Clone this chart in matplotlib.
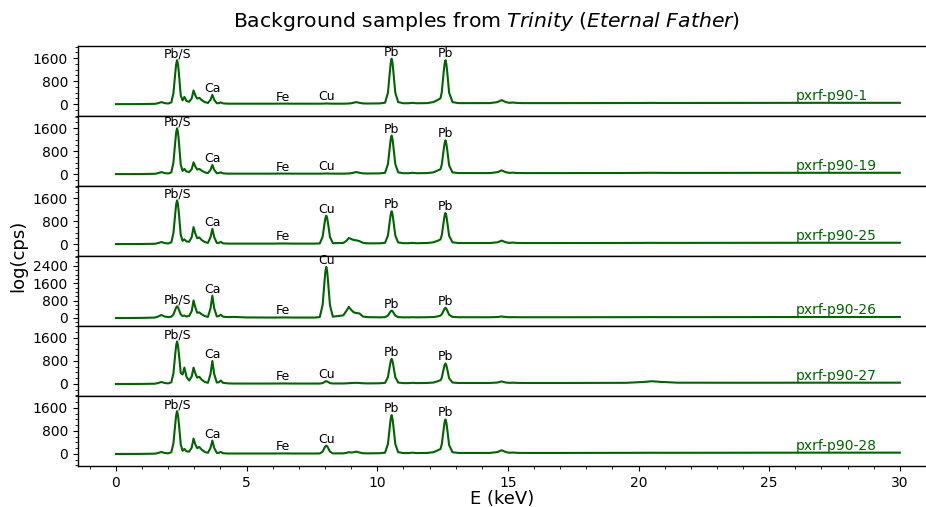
import matplotlib
matplotlib.use("Agg")
import matplotlib.pyplot as plt
from matplotlib.ticker import MultipleLocator, AutoMinorLocator
import numpy as np

# energy grid (keV), denser around the peaks
energy = [
    0.0, 0.5, 1.0, 1.5, 1.62, 1.74, 1.86, 2.0,
    2.12, 2.20, 2.27, 2.305, 2.34, 2.375, 2.41, 2.48,
    2.55, 2.62, 2.70, 2.80,
    2.90, 2.97, 3.04, 3.11, 3.19, 3.28, 3.40, 3.52,
    3.62, 3.69, 3.76, 3.86, 3.94, 4.01, 4.10, 4.3,
    4.5, 5.0, 6.0, 6.4, 6.8, 7.6,
    7.80, 7.91, 7.98, 8.015, 8.05, 8.085, 8.12, 8.19, 8.30,
    8.70, 8.82, 8.91, 9.00, 9.10, 9.20, 9.32, 9.45, 9.60,
    10.1, 10.30, 10.41, 10.48, 10.515, 10.55, 10.585, 10.62, 10.69, 10.80, 11.0,
    11.20, 11.35, 11.50, 11.9, 12.15, 12.30, 12.42,
    12.47, 12.54, 12.575, 12.61, 12.645, 12.68, 12.75, 12.88, 13.1,
    14.3, 14.60, 14.76, 14.92, 15.05, 15.20, 15.35, 15.6,
    17.0, 19.5, 20.2, 20.5, 20.8, 21.5, 24.0, 27.0, 30.0]

samples = ["pxrf-p90-1", "pxrf-p90-19", "pxrf-p90-25",
           "pxrf-p90-26", "pxrf-p90-27", "pxrf-p90-28"]

cps_p90_1 = [
    0, 0, 2, 10, 35, 70, 35, 20,
    60, 380, 1070, 1390, 1530, 1390, 1070, 300,
    130, 250, 110, 80,
    200, 475, 300, 190, 220, 140, 70, 40,
    150, 325, 150, 30, 35, 60, 25, 15,
    15, 15, 15, 18, 15, 15,
    15, 17, 20, 21, 22, 21, 20, 17, 15,
    15, 18, 22, 30, 50, 70, 45, 25, 20,
    25, 50, 400, 1100, 1430, 1580, 1430, 1100, 400, 70, 30,
    30, 45, 30, 35, 70, 140, 200,
    420, 1100, 1390, 1530, 1390, 1100, 400, 70, 35,
    35, 70, 140, 70, 45, 55, 40, 35,
    35, 38, 40, 42, 40, 40, 42, 45, 45]

cps_p90_19 = [
    0, 0, 2, 10, 35, 70, 35, 20,
    60, 400, 1120, 1450, 1595, 1450, 1120, 330,
    110, 180, 90, 70,
    170, 410, 260, 160, 180, 120, 60, 35,
    150, 320, 150, 30, 35, 60, 25, 15,
    15, 15, 15, 18, 15, 15,
    15, 17, 20, 21, 22, 21, 20, 17, 15,
    15, 18, 22, 30, 50, 70, 45, 25, 20,
    25, 45, 350, 940, 1210, 1340, 1210, 940, 350, 60, 30,
    30, 45, 30, 35, 60, 120, 170,
    330, 830, 1060, 1175, 1060, 830, 300, 60, 35,
    35, 65, 130, 65, 42, 50, 38, 35,
    35, 38, 42, 45, 42, 40, 42, 45, 45]

cps_p90_25 = [
    0, 0, 2, 10, 35, 70, 35, 20,
    60, 380, 1060, 1380, 1520, 1380, 1060, 320,
    110, 165, 90, 80,
    240, 590, 360, 200, 230, 140, 70, 40,
    240, 530, 240, 40, 40, 75, 25, 15,
    15, 15, 15, 20, 15, 15,
    20, 250, 700, 900, 990, 900, 700, 250, 30,
    40, 110, 210, 180, 140, 130, 100, 45, 25,
    25, 45, 300, 800, 1030, 1140, 1030, 800, 300, 55, 30,
    30, 40, 30, 35, 60, 110, 160,
    310, 760, 980, 1080, 980, 760, 290, 60, 35,
    35, 60, 120, 60, 40, 50, 38, 35,
    35, 38, 40, 42, 40, 40, 42, 45, 45]

cps_p90_26 = [
    0, 0, 5, 20, 70, 140, 70, 40,
    60, 160, 380, 490, 540, 490, 380, 170,
    90, 110, 70, 90,
    320, 810, 480, 240, 260, 170, 90, 50,
    450, 1030, 450, 70, 90, 150, 60, 40,
    50, 25, 20, 25, 20, 20,
    40, 600, 1650, 2140, 2360, 2140, 1650, 600, 60,
    120, 330, 510, 380, 260, 230, 210, 70, 40,
    30, 40, 110, 250, 310, 340, 310, 250, 110, 40, 30,
    30, 35, 30, 35, 45, 70, 110,
    170, 340, 430, 470, 430, 340, 150, 50, 35,
    35, 45, 70, 45, 35, 40, 35, 35,
    35, 38, 40, 42, 40, 40, 42, 45, 45]

cps_p90_27 = [
    0, 0, 2, 10, 35, 70, 35, 20,
    60, 370, 1040, 1340, 1480, 1340, 1040, 380,
    330, 570, 250, 120,
    260, 570, 360, 220, 250, 150, 70, 40,
    350, 800, 350, 50, 60, 120, 40, 20,
    15, 15, 15, 18, 15, 15,
    15, 30, 70, 88, 95, 88, 70, 30, 18,
    18, 22, 28, 32, 38, 40, 35, 25, 20,
    25, 40, 240, 620, 790, 875, 790, 620, 240, 50, 30,
    30, 40, 30, 35, 50, 90, 130,
    220, 510, 650, 715, 650, 510, 200, 50, 35,
    35, 50, 90, 50, 40, 45, 38, 35,
    35, 40, 70, 95, 75, 45, 42, 45, 45]

cps_p90_28 = [
    0, 0, 2, 10, 35, 70, 35, 20,
    60, 370, 1040, 1350, 1490, 1350, 1040, 330,
    110, 175, 90, 80,
    220, 535, 330, 200, 245, 150, 70, 40,
    210, 465, 210, 35, 40, 70, 25, 15,
    15, 15, 15, 18, 15, 15,
    18, 80, 210, 265, 290, 265, 210, 80, 20,
    20, 40, 60, 50, 60, 80, 50, 25, 20,
    25, 45, 350, 950, 1220, 1350, 1220, 950, 350, 60, 30,
    30, 45, 30, 35, 60, 120, 170,
    340, 850, 1090, 1200, 1090, 850, 310, 60, 35,
    35, 65, 130, 65, 42, 50, 38, 35,
    35, 38, 40, 42, 40, 40, 42, 45, 45]

spectra = [cps_p90_1, cps_p90_19, cps_p90_25, cps_p90_26, cps_p90_27, cps_p90_28]

# element lines that get a label
line_names = ["Pb/S", "Ca", "Fe", "Cu", "Pb", "Pb"]
line_energies = [2.34, 3.69, 6.40, 8.05, 10.55, 12.61]

green = "#006400"

fig, axes = plt.subplots(6, 1, sharex=True, figsize=(9.26, 5.07), dpi=100)
fig.subplots_adjust(left=0.084, right=1.0, top=0.909, bottom=0.081, hspace=0)

E = np.array(energy)
for i, ax in enumerate(axes):
    cps = np.array(spectra[i])
    ax.plot(E, cps, color=green, lw=1.5)

    for name, e0 in zip(line_names, line_energies):
        near = np.abs(E - e0) <= 0.08
        ax.text(e0, cps[near].max(), name, fontsize=9,
                ha="center", va="bottom")
    ax.text(26.0, cps[-1], samples[i], fontsize=10, color=green,
            ha="left", va="bottom")

    if cps.max() > 2000:
        ax.set_ylim(-370, 2860)
    else:
        ax.set_ylim(-417, 2017)
    ax.yaxis.set_major_locator(MultipleLocator(800))
    ax.yaxis.set_minor_locator(AutoMinorLocator(4))
    ax.tick_params(axis="y", labelsize=10)
    ax.spines["right"].set_visible(False)
    for s in ("top", "bottom", "left"):
        ax.spines[s].set_linewidth(1.0)
    if i < 5:
        ax.tick_params(axis="x", which="both", bottom=False)

ax = axes[-1]
ax.set_xlim(-1.46, 31.0)
ax.xaxis.set_major_locator(MultipleLocator(5))
ax.xaxis.set_minor_locator(MultipleLocator(1))
ax.tick_params(axis="x", labelsize=10)
ax.set_xlabel("E (keV)", fontsize=13, labelpad=0)

fig.text(0.02, 0.495, "log(cps)", rotation=90, fontsize=13,
         ha="center", va="center")
fig.suptitle(r"Background samples from $\it{Trinity}$ ($\it{Eternal\ Father}$)",
             fontsize=14.7, x=0.525, y=0.98)

plt.savefig("out.png")
